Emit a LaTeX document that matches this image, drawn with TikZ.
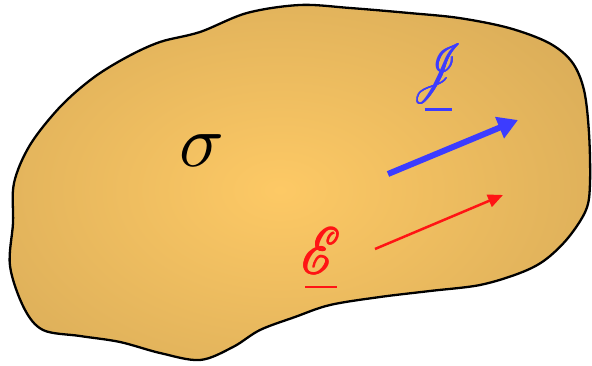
\documentclass[tikz,border=0pt]{standalone}
\usepackage{graphicx}
\usepackage{mathrsfs}
\usetikzlibrary{arrows.meta}
\definecolor{blobin}{RGB}{253,201,101}
\definecolor{blobout}{RGB}{198,157,82}
\definecolor{jblue}{RGB}{60,60,255}
\definecolor{ered}{RGB}{255,20,20}
\newcommand{\fakebold}[1]{\rlap{#1}\rlap{\kern0.9pt#1}\rlap{\kern0.45pt\raisebox{0.4pt}{#1}}\kern0.45pt#1}
\tikzset{
  outline/.style={draw=black, line width=2.3pt},
  bigsym/.style={inner sep=0pt},
  vecsym/.style={inner sep=0pt, align=center, anchor=south},
  jarrow/.style={draw=jblue, line width=6pt, -{Triangle[length=20pt,width=22pt]}},
  earrow/.style={draw=ered, line width=2.5pt, -{Triangle[length=15pt,width=13pt]}}
}
\begin{document}
\begin{tikzpicture}[x=1pt,y=-1pt]
\useasboundingbox (0,0) rectangle (592,366);
\def\blobpath{plot[smooth cycle, tension=0.55] coordinates {
 (300,5) (350,8) (409,13) (459,18) (509,28) (549,43) (572,62) (584,90)
 (589,133) (590,183) (586,210) (568,238) (545,260) (520,273) (480,285)
 (430,291) (380,297) (330,305) (295,317) (260,330) (233,347) (200,360)
 (160,353) (120,342) (80,336) (43,330) (24,308) (10,266) (13,223)
 (14,183) (30,145) (60,107) (93,78) (127,57) (160,42) (200,32) (247,13)}}
\begin{scope}
  \clip \blobpath;
  \shade[inner color=blobin, outer color=blobout] (280,190) ellipse [x radius=580, y radius=380];
\end{scope}
\draw[outline] \blobpath;
\node[bigsym] (sigma) at (202,151) {\scalebox{7.4}{$\sigma$}};
\node[vecsym, text=jblue] (J) at (438,111.5)
  {\fakebold{\scalebox{4.0}[6.0]{$\mathscr{J}$}}\\[4pt]\rule{27pt}{2.8pt}};
\node[vecsym, text=ered] (E) at (321,288.5)
  {\fakebold{\scalebox{5.2}[6.6]{$\mathscr{E}$}}\\[2pt]\rule{32pt}{2.8pt}};
\coordinate (jtail) at (388,174);
\coordinate (jtip) at (518,120);
\coordinate (etail) at (375,249);
\coordinate (etip) at (503,195);
\draw[jarrow] (jtail) -- (jtip);
\draw[earrow] (etail) -- (etip);
\end{tikzpicture}
\end{document}
